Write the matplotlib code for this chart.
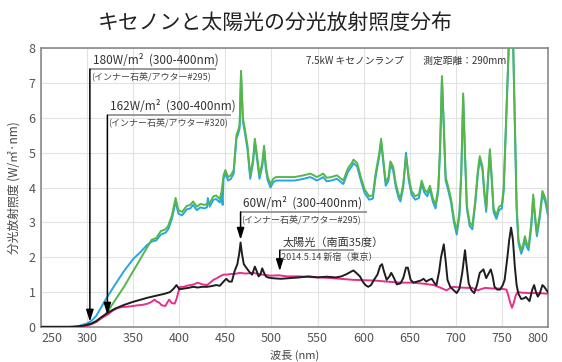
import matplotlib
matplotlib.use("Agg")
import matplotlib.pyplot as plt

plt.rcParams['font.family'] = ['Noto Sans CJK JP', 'DejaVu Sans']

# ---------------- data ----------------
title = "キセノンと太陽光の分光放射照度分布"
xlabel = "波長 (nm)"
ylabel = "分光放射照度 (W/㎡·nm)"
xticks = [250, 300, 350, 400, 450, 500, 550, 600, 650, 700, 750, 800]
yticks = [0, 1, 2, 3, 4, 5, 6, 7, 8]

# Xenon lamp, inner quartz / outer #295 (green)
green_wl = [250, 280, 290, 300, 310, 320, 330, 340, 350, 360, 370, 375, 380, 385, 388, 392, 396, 399,
            403, 408, 412, 415, 419, 423, 427, 430, 433, 437, 440, 444, 446, 448, 450, 453, 456, 459,
            462, 464, 465.5, 467, 469, 471, 474, 477, 480, 482, 484, 487, 490, 492, 494, 496, 499, 502,
            505, 515, 525, 535, 542, 546, 549, 553, 556, 560, 565, 571, 578, 583, 587, 589, 593, 597,
            601, 606, 610, 613, 617, 619, 621, 624, 627, 629, 632, 635, 638, 640, 643, 646, 649, 652,
            656, 660, 663, 666, 669, 672, 675, 678, 681, 683, 685, 687, 689, 692, 695, 698, 701, 704,
            706, 708, 710, 712, 715, 718, 721, 724, 726, 729, 731, 733, 735, 737, 739, 741, 744, 747,
            750, 752, 754, 756, 758, 760, 762, 764, 766, 768, 771, 773, 775, 777, 779, 782, 784, 786,
            788, 791, 794, 797, 800]
green_val = [0, 0, 0.01, 0.05, 0.15, 0.35, 0.75, 1.15, 1.6, 2.05, 2.5, 2.55, 2.75, 2.8, 2.9, 3.2, 3.7, 3.35,
             3.3, 3.47, 3.5, 3.6, 3.45, 3.53, 3.5, 3.53, 3.55, 3.75, 3.77, 3.67, 3.9, 4.35, 4.5, 4.3, 4.35, 4.5,
             5.5, 5.65, 5.8, 7.35, 6.0, 5.7, 5.2, 4.35, 4.8, 5.4, 5.0, 4.35, 4.7, 5.2, 4.6, 4.3, 4.1, 4.25,
             4.3, 4.3, 4.3, 4.35, 4.4, 4.35, 4.3, 4.35, 4.4, 4.28, 4.3, 4.35, 4.2, 4.55, 4.7, 4.8, 4.7, 4.3,
             3.95, 3.75, 3.78, 4.4, 5.0, 5.4, 4.9, 4.15, 4.3, 4.75, 4.6, 4.1, 3.8, 3.7, 4.1, 4.9, 4.3, 3.9,
             3.75, 3.8, 4.2, 3.95, 3.85, 4.05, 3.7, 3.5, 4.0, 5.2, 7.2, 5.8, 4.3, 4.0, 3.65, 3.1, 2.75, 3.3,
             4.5, 6.7, 5.0, 3.5, 3.0, 2.9, 3.6, 4.5, 4.9, 4.6, 3.9, 3.4, 4.3, 5.1, 4.3, 3.4, 3.2, 3.45,
             3.5, 4.0, 5.5, 7.0, 8.5, 9.0, 8.5, 6.0, 3.5, 2.5, 2.2, 2.35, 2.6, 2.4, 2.3, 3.0, 3.8, 3.2,
             2.7, 3.2, 3.9, 3.7, 3.3]

# Xenon lamp, inner quartz / outer #320 (blue)
blue_wl = [250, 280, 290, 300, 305, 310, 315, 320, 330, 340, 350, 358, 365, 370, 375, 380, 385, 388, 392,
           396, 399, 403, 408, 412, 415, 419, 423, 427, 430, 431, 433, 437, 440, 444, 446, 447, 448, 450,
           453, 456, 459, 462, 464, 465.5, 467, 469, 471, 474, 477, 480, 482, 484, 487, 490, 492, 494,
           496, 499, 502, 505, 515, 525, 535, 542, 546, 549, 553, 556, 560, 565, 571, 578, 583, 587, 589,
           593, 597, 601, 606, 610, 613, 617, 619, 621, 624, 627, 629, 632, 635, 638, 640, 643, 646, 649,
           652, 656, 660, 663, 666, 669, 672, 675, 678, 681, 683, 685, 687, 689, 692, 695, 698, 701, 704,
           706, 708, 710, 712, 715, 718, 721, 724, 726, 729, 731, 733, 735, 737, 739, 741, 744, 747, 750,
           752, 754, 756, 758, 760, 762, 764, 766, 768, 771, 773, 775, 777, 779, 782, 784, 786, 788, 791,
           794, 797, 800]
blue_val = [0, 0, 0.02, 0.1, 0.18, 0.32, 0.55, 0.78, 1.2, 1.6, 1.95, 2.15, 2.35, 2.45, 2.48, 2.65, 2.7,
            2.8, 3.1, 3.6, 3.25, 3.2, 3.37, 3.4, 3.5, 3.35, 3.43, 3.4, 3.43, 3.7, 3.45, 3.65, 3.67, 3.57,
            3.8, 3.5, 4.25, 4.4, 4.2, 4.25, 4.4, 5.4, 5.55, 5.7, 7.25, 5.9, 5.6, 5.1, 4.25, 4.7, 5.3, 4.9,
            4.25, 4.6, 5.1, 4.5, 4.2, 4.0, 4.15, 4.2, 4.2, 4.2, 4.25, 4.3, 4.25, 4.2, 4.25, 4.3, 4.18,
            4.2, 4.25, 4.1, 4.45, 4.6, 4.7, 4.6, 4.2, 3.85, 3.65, 3.68, 4.3, 4.9, 5.3, 4.8, 4.05, 4.2,
            4.65, 4.5, 4.0, 3.7, 3.6, 4.0, 5.0, 4.2, 3.8, 3.65, 3.7, 4.1, 3.85, 3.75, 3.95, 3.6, 3.4,
            3.9, 5.1, 7.1, 5.7, 4.2, 3.9, 3.55, 3.0, 2.65, 3.2, 4.4, 6.6, 4.9, 3.4, 2.9, 2.8, 3.5, 4.4,
            4.8, 4.5, 3.8, 3.3, 4.2, 5.0, 4.2, 3.3, 3.1, 3.35, 3.4, 3.9, 5.4, 6.9, 8.4, 8.9, 8.4, 5.9,
            3.4, 2.4, 2.1, 2.25, 2.5, 2.3, 2.2, 2.9, 3.7, 3.1, 2.6, 3.1, 3.8, 3.6, 3.2]

# Xenon 60W/m2 setting (black)
black_wl = [250, 285, 295, 300, 305, 310, 315, 322, 330, 340, 350, 358, 366, 376, 384, 390, 394, 397, 400,
            405, 410, 415, 420, 425, 430, 435, 440, 444, 448, 451, 454, 457, 460, 463, 465, 466.5, 468,
            470, 474, 477, 479, 482, 484, 486, 488, 490, 492, 494, 496, 500, 510, 520, 530, 540, 550, 560,
            570, 576, 582, 586, 589, 592, 596, 599, 602, 605, 608, 612, 615, 618, 620, 622, 625, 628, 630,
            633, 636, 640, 643, 646, 648, 651, 654, 658, 662, 665, 668, 671, 674, 677, 679, 682, 684, 687,
            689, 691, 694, 697, 701, 704, 707, 710, 712, 714, 717, 720, 723, 726, 730, 733, 736, 738, 740,
            742, 745, 748, 751, 753, 756, 758, 760, 762, 764, 766, 768, 771, 774, 776, 778, 780, 783, 785,
            787, 789, 791, 794, 796, 798, 800]
black_val = [0, 0, 0.03, 0.06, 0.1, 0.17, 0.27, 0.4, 0.52, 0.63, 0.72, 0.78, 0.84, 0.9, 0.95, 1.0, 1.1, 1.2,
             1.08, 1.1, 1.12, 1.15, 1.13, 1.15, 1.15, 1.17, 1.2, 1.18, 1.3, 1.38, 1.3, 1.3, 1.6, 1.8, 2.1,
             2.42, 2.1, 1.8, 1.65, 1.55, 1.5, 1.73, 1.6, 1.45, 1.5, 1.68, 1.55, 1.45, 1.42, 1.4, 1.38, 1.4,
             1.42, 1.45, 1.42, 1.44, 1.42, 1.45, 1.52, 1.58, 1.62, 1.55, 1.45, 1.3, 1.2, 1.15, 1.2, 1.38,
             1.5, 1.75, 1.8, 1.6, 1.35, 1.45, 1.55, 1.4, 1.22, 1.25, 1.4, 1.7, 1.7, 1.35, 1.27, 1.3, 1.33,
             1.38, 1.3, 1.35, 1.38, 1.25, 1.2, 1.6, 2.0, 2.37, 1.9, 1.35, 1.15, 1.07, 0.97, 1.1, 1.55, 2.2,
             1.7, 1.25, 1.05, 0.97, 1.2, 1.55, 1.65, 1.4, 1.55, 1.65, 1.45, 1.15, 1.07, 1.07, 1.2, 1.35,
             2.0, 2.5, 2.85, 2.5, 1.75, 1.2, 0.95, 0.8, 0.82, 0.86, 0.8, 0.74, 1.07, 1.2, 1.0, 0.87, 0.95,
             1.2, 1.15, 1.07, 1.0]

# Sunlight (south, 35 deg) 2014.5.14 Shinjuku (magenta)
sun_wl = [250, 290, 300, 305, 310, 315, 322, 328, 333, 338, 344, 350, 355, 360, 366, 370, 373, 376, 378, 381,
          385, 387, 389, 392, 395, 397, 399, 401, 405, 408, 412, 416, 420, 425, 430, 434, 437, 441, 444,
          448, 452, 456, 460, 466, 472, 480, 490, 499, 508, 517, 530, 540, 553, 565, 575, 589, 600, 612,
          625, 640, 653, 665, 676, 683, 687, 690, 693, 697, 705, 712, 718, 721, 724, 727, 732, 740, 748,
          755, 757, 759, 761, 763, 765, 767, 772, 781, 790, 800]
sun_val = [0, 0, 0.03, 0.08, 0.14, 0.24, 0.35, 0.47, 0.54, 0.57, 0.58, 0.6, 0.62, 0.63, 0.67, 0.72, 0.78, 0.72,
           0.7, 0.62, 0.6, 0.7, 0.78, 0.68, 0.67, 0.8, 1.0, 1.15, 1.15, 1.18, 1.2, 1.22, 1.27, 1.22, 1.2,
           1.28, 1.35, 1.4, 1.45, 1.5, 1.5, 1.52, 1.52, 1.55, 1.53, 1.55, 1.5, 1.47, 1.48, 1.45, 1.45, 1.43,
           1.42, 1.4, 1.38, 1.35, 1.34, 1.33, 1.3, 1.27, 1.27, 1.24, 1.2, 1.13, 1.08, 1.05, 1.1, 1.15, 1.13,
           1.12, 1.12, 1.08, 1.05, 1.08, 1.12, 1.1, 1.1, 1.07, 0.9, 0.7, 0.55, 0.7, 0.9, 1.0, 0.98, 0.97,
           0.97, 0.95]

# annotations: (text line 1, text line 2, arrow x, arrow tip y, bracket top y, bracket right x)
ann_180 = ("180W/m²  (300-400nm)", "(インナー石英/アウター#295)", 303, 0.15, 7.4, 440)
ann_162 = ("162W/m²  (300-400nm)", "(インナー石英/アウター#320)", 322, 0.35, 6.07, 456)
ann_60 = ("60W/m²  (300-400nm)", "(インナー石英/アウター#295)", 466.5, 2.5, 3.3, 604)
ann_sun = ("太陽光（南面35度）", "2014.5.14 新宿（東京）", 509, 1.6, 2.2, 590)
lamp_note = "7.5kW キセノンランプ　　測定距離：290mm"

# ---------------- plot ----------------
fig = plt.figure(figsize=(5.62, 3.62), dpi=100)
ax = fig.add_axes([0.073, 0.097, 0.902, 0.77])

c_green = '#55b649'
c_blue = '#27a7e1'
c_black = '#1e1e1e'
c_mag = '#e6308a'

ax.plot(blue_wl, blue_val, color=c_blue, lw=1.4, zorder=3)
ax.plot(green_wl, green_val, color=c_green, lw=1.4, zorder=4)
ax.plot(sun_wl, sun_val, color=c_mag, lw=1.4, zorder=5)
ax.plot(black_wl, black_val, color=c_black, lw=1.4, zorder=6)

ax.set_xlim(250, 800)
ax.set_ylim(0, 8)
ax.set_xticks(xticks)
ax.set_yticks(yticks)
ax.set_xticklabels([str(t) for t in xticks])
ax.set_yticklabels([str(t) for t in yticks])
ax.tick_params(length=0, labelsize=9, labelcolor='#555555', pad=4)
xl = ax.get_xticklabels()
xl[0].set_ha('left')
xl[-1].set_ha('right')
ax.grid(True, color='#e2e2e2', lw=0.8, zorder=0)
ax.set_axisbelow(True)
for s in ax.spines.values():
    s.set_color('#8a8a8a')
    s.set_linewidth(1.2)

ax.set_xlabel(xlabel, fontsize=8, color='#444444', labelpad=3)
ax.set_ylabel(ylabel, fontsize=8.5, color='#444444', labelpad=6)

fig.text(0.49, 0.938, title, ha='center', va='center', fontsize=15, color='#222222')

ln_col = '#808080'
for t1, t2, x0, ytip, ytop, x1, fs1, fs2 in [
        (*ann_180, 8.5, 6.5), (*ann_162, 8.5, 6.5), (*ann_60, 8.5, 6.5), (*ann_sun, 8, 6.5)]:
    ax.plot([x0, x1], [ytop, ytop], color=ln_col, lw=1.1, zorder=7, solid_capstyle='butt')
    ax.annotate('', xy=(x0, ytip), xytext=(x0, ytop),
                arrowprops=dict(arrowstyle='-|>,head_length=0.7,head_width=0.22', color=ln_col,
                                lw=1.1, shrinkA=0, shrinkB=0, fc='black', ec='black'), zorder=8)
    ax.text(x0 + 3, ytop + 0.07, t1, fontsize=fs1, color='#333333', ha='left', va='bottom', zorder=9)
    ax.text(x0 + 1, ytop - 0.06, t2, fontsize=fs2, color='#444444', ha='left', va='top', zorder=9)

ax.text(537, 7.63, lamp_note, fontsize=7, color='#333333', ha='left', va='center', zorder=9)

fig.savefig('out.png', dpi=100)
